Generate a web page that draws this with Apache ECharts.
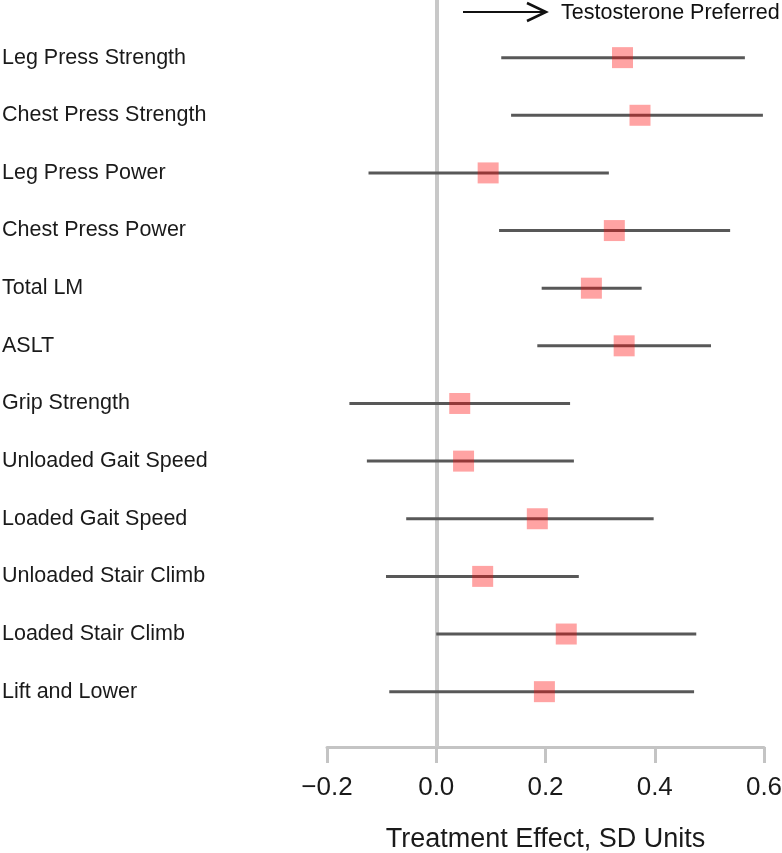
<!DOCTYPE html>
<html>
<head>
<meta charset="utf-8">
<script src="https://cdn.jsdelivr.net/npm/echarts@6/dist/echarts.min.js"></script>
<style>html,body{margin:0;padding:0;background:#fff}#c{width:782px;height:853px}</style>
</head>
<body>
<div id="c"></div>
<script>
const labels = ["Leg Press Strength","Chest Press Strength","Leg Press Power","Chest Press Power","Total LM","ASLT","Grip Strength","Unloaded Gait Speed","Loaded Gait Speed","Unloaded Stair Climb","Loaded Stair Climb","Lift and Lower"];
const estimate = [0.341,0.373,0.095,0.326,0.284,0.344,0.043,0.050,0.185,0.085,0.238,0.198];
const lower = [0.119,0.137,-0.124,0.115,0.193,0.185,-0.159,-0.127,-0.055,-0.092,0.000,-0.086];
const upper = [0.565,0.598,0.316,0.538,0.376,0.503,0.245,0.252,0.398,0.261,0.476,0.472];
const xTicks = [-0.2, 0.0, 0.2, 0.4, 0.6];
const xTitle = "Treatment Effect, SD Units";
const annotation = "Testosterone Preferred";

const FONT = "Liberation Sans, Arial, Helvetica, sans-serif";
const chart = echarts.init(document.getElementById('c'), null, {renderer:'canvas'});

const ciData = labels.map((l,i)=>[lower[i], upper[i], i+1]);
const estData = labels.map((l,i)=>[estimate[i], i+1]);

chart.setOption({
  animation:false,
  backgroundColor:'#fff',
  grid:{left:327, right:18, top:0, bottom:106, containLabel:false, outerBoundsMode:'none'},
  xAxis:{
    type:'value', min:xTicks[0], max:xTicks[xTicks.length-1], interval:0.2,
    axisLine:{show:true, onZero:false, lineStyle:{color:'#c4c4c4', width:3}},
    axisTick:{show:true, length:16, lineStyle:{color:'#c4c4c4', width:3}},
    splitLine:{show:false},
    axisLabel:{margin:28, fontSize:26, color:'#1a1a1a', fontFamily:FONT,
      formatter:v=>{ const s=(Math.round(v*10)/10).toFixed(1); return s.replace('-', '\u2212'); }},
    name:xTitle, nameLocation:'middle', nameGap:79,
    nameTextStyle:{fontSize:27, color:'#1a1a1a', fontFamily:FONT}
  },
  yAxis:{
    type:'value', inverse:true, min:0, max:12.96, interval:1,
    axisLine:{show:false}, axisTick:{show:false}, splitLine:{show:false},
    axisLabel:{margin:325, align:'left', fontSize:21.5, color:'#1a1a1a', fontFamily:FONT,
      showMaxLabel:false,
      formatter:v=>{ const k=Math.round(v); return (Math.abs(v-k)<1e-6 && k>=1 && k<=labels.length) ? labels[k-1] : ''; }}
  },
  series:[
    {
      type:'scatter', name:'zero', data:[], silent:true, z:1,
      markLine:{
        silent:true, symbol:['none','none'], label:{show:false}, z:1,
        lineStyle:{color:'#c8c8c8', width:4, type:'solid'},
        data:[{xAxis:0}]
      }
    },
    {
      type:'custom', name:'CI', data:ciData, silent:true, z:5,
      encode:{x:[0,1], y:2},
      renderItem:(params, api)=>{
        const p1 = api.coord([api.value(0), api.value(2)]);
        const p2 = api.coord([api.value(1), api.value(2)]);
        return {type:'line', shape:{x1:p1[0], y1:p1[1], x2:p2[0], y2:p2[1]},
          style:{stroke:'#585858', lineWidth:3}};
      }
    },
    {
      type:'scatter', name:'Estimate', data:estData, symbol:'rect', symbolSize:21, silent:true, z:6,
      itemStyle:{color:'rgba(255,0,0,0.45)'}
    }
  ],
  graphic:[
    {type:'line', shape:{x1:463, y1:12, x2:546, y2:12}, style:{stroke:'#111', lineWidth:2}},
    {type:'polyline', shape:{points:[[527,3],[546,12],[527,21]]}, style:{stroke:'#111', lineWidth:2.5, fill:null}},
    {type:'text', left:561, top:2, style:{text:annotation, fontSize:21.5, fill:'#111', fontFamily:FONT}}
  ]
});
</script>
</body>
</html>
